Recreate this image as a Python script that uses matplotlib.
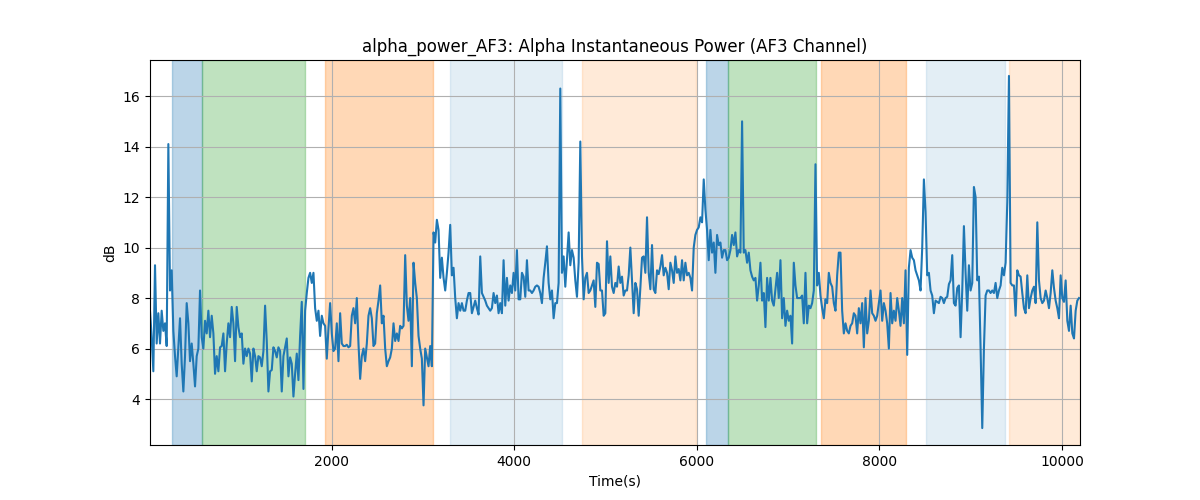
import numpy as np
import matplotlib
matplotlib.use("Agg")
import matplotlib.pyplot as plt

# Alpha power (dB) at a regular time step, in chunks
power_a = [  # ~0 - ~1200 s
    7.5, 6.45, 5.1, 9.3, 6.2, 7.4, 6.2, 7.5, 6.7, 7.0, 6.1, 14.1, 8.3, 9.1, 6.7, 5.7,
    4.9, 6.05, 7.2, 5.4, 4.3, 5.7, 7.8, 7.0, 5.5, 6.2, 5.4, 4.5, 5.7, 6.0, 8.3, 6.45,
    6.0, 7.1, 6.6, 7.5, 6.45, 7.3, 6.6, 5.0, 5.7, 5.1, 6.05, 6.1, 6.6, 5.1, 6.2, 7.0,
    6.45, 7.65, 7.0, 5.5, 7.65, 6.85, 6.45, 6.6, 5.4, 6.0, 5.7, 6.0, 5.8, 4.7, 6.0,
    5.7, 5.1, 5.7,
]
power_b = [  # ~1200 - ~2450 s
    5.65, 5.3, 5.9, 7.7, 6.3, 4.3, 5.1, 5.15, 6.05, 5.9, 5.65, 6.05, 5.9, 4.3, 5.7,
    6.05, 6.4, 4.9, 5.65, 5.4, 4.1, 5.0, 5.8, 4.75, 6.5, 7.85, 4.4, 7.5, 8.2, 8.8, 9.0,
    8.6, 9.0, 7.6, 7.1, 7.5, 6.5, 7.3, 7.0, 6.9, 5.6, 6.8, 7.8, 6.6, 5.9, 6.0, 7.0, 5.5,
    7.4, 6.2, 6.1, 6.1, 6.15, 6.05, 6.1, 7.3, 7.6, 7.0, 8.0, 6.2, 4.8, 5.7, 6.0, 5.5,
    6.2, 7.3, 7.6, 7.2, 6.1,
]
power_c = [  # ~2450 - ~3700 s
    6.2, 7.4, 7.9, 8.5, 7.0, 7.3, 6.0, 5.3, 5.5, 5.65, 6.0, 7.0, 6.3, 6.6, 6.3, 6.9,
    6.8, 6.9, 9.7, 7.7, 7.1, 8.0, 5.3, 9.4, 8.6, 8.0, 6.5, 6.0, 5.6, 3.75, 6.0, 5.65,
    5.3, 6.1, 5.3, 10.6, 10.2, 11.1, 10.7, 8.8, 9.6, 8.8, 8.3, 9.0, 9.8, 10.9, 8.9, 9.2,
    8.0, 7.2, 7.8, 7.5, 7.8, 7.5, 7.5, 7.9, 8.2, 8.2, 7.4, 7.65, 7.9, 7.6, 7.35, 9.65,
    8.2, 8.05, 7.9, 7.7, 7.6,
]
power_d = [  # ~3700 - ~4950 s
    7.5, 7.6, 8.2, 7.8, 8.1, 7.4, 7.8, 7.4, 9.5, 7.7, 8.8, 7.9, 8.5, 8.2, 9.0, 8.3,
    9.9, 7.95, 7.95, 9.0, 8.85, 8.05, 9.5, 8.3, 8.3, 8.2, 8.3, 8.45, 8.5, 8.45, 8.2,
    7.8, 8.8, 9.4, 10.05, 8.6, 7.95, 8.3, 7.2, 7.8, 7.8, 8.6, 16.3, 9.0, 9.65, 8.45,
    9.5, 10.6, 9.3, 9.9, 9.6, 8.7, 8.05, 9.4, 14.2, 9.65, 7.95, 8.8, 9.0, 8.2, 8.3,
    8.5, 8.7, 7.65, 9.4, 9.35, 8.3, 8.3, 7.3,
]
power_e = [  # ~4950 - ~6200 s
    7.4, 10.25, 8.6, 9.65, 8.45, 8.2, 8.6, 8.45, 9.25, 8.6, 8.85, 8.1, 8.3, 8.3, 8.9,
    10.0, 8.7, 7.4, 8.6, 8.35, 7.3, 8.4, 9.6, 9.65, 9.0, 11.2, 9.0, 8.35, 10.1, 8.35,
    8.2, 9.1, 8.95, 9.25, 9.7, 8.9, 9.2, 9.0, 8.35, 9.4, 9.1, 8.6, 9.65, 9.0, 9.15, 8.7,
    9.5, 8.7, 9.4, 8.9, 9.0, 8.8, 8.3, 10.0, 10.5, 10.7, 10.8, 11.2, 11.0, 12.7, 11.5,
    10.7, 9.5, 10.7, 9.8, 10.2, 9.0, 10.5, 10.1,
]
power_f = [  # ~6200 - ~7450 s
    10.2, 9.6, 9.9, 9.9, 9.5, 9.6, 9.9, 10.5, 10.1, 10.6, 9.65, 9.9, 9.8, 15.0, 9.8,
    9.9, 9.4, 9.8, 9.1, 8.85, 8.7, 8.8, 7.9, 8.5, 9.4, 7.9, 8.2, 6.85, 8.8, 7.9, 8.8,
    7.9, 7.7, 8.35, 9.0, 8.0, 9.5, 7.2, 8.0, 6.9, 7.5, 7.1, 7.3, 6.2, 9.4, 8.5, 8.0,
    8.0, 8.0, 8.1, 7.0, 9.0, 7.0, 7.7, 7.6, 7.8, 8.3, 13.3, 8.5, 9.0, 8.1, 7.6, 7.2,
    7.95, 7.8, 9.0, 8.6, 8.45, 7.8,
]
power_g = [  # ~7450 - ~8700 s
    7.5, 8.9, 9.8, 9.8, 7.5, 6.6, 7.0, 6.7, 6.6, 6.9, 7.0, 7.4, 7.3, 6.6, 7.6, 7.0,
    7.8, 6.05, 8.0, 6.6, 7.1, 8.3, 7.4, 7.3, 7.1, 7.3, 7.8, 8.3, 7.1, 7.8, 7.5, 7.0,
    6.0, 8.2, 7.0, 7.5, 7.1, 8.0, 7.5, 6.9, 8.0, 7.0, 9.1, 5.75, 9.2, 9.9, 9.6, 9.5,
    9.1, 8.9, 8.7, 8.3, 10.0, 12.7, 11.4, 8.9, 9.0, 8.3, 8.1, 7.4, 7.9, 7.85, 7.8,
    8.05, 8.0, 7.8, 8.0, 8.05, 8.55,
]
power_h = [  # ~8700 s - end
    8.7, 9.7, 7.8, 7.7, 8.4, 8.5, 6.45, 8.3, 10.85, 9.0, 7.5, 9.3, 8.3, 8.6, 12.4,
    12.0, 8.7, 8.85, 6.0, 2.85, 6.0, 8.1, 8.3, 8.3, 8.2, 8.3, 8.2, 8.6, 8.0, 8.3, 8.5,
    9.2, 8.9, 9.4, 11.8, 16.8, 8.6, 8.5, 8.5, 7.3, 9.1, 8.9, 8.85, 8.2, 7.6, 7.4, 8.9,
    7.6, 8.0, 8.3, 8.45, 7.8, 11.0, 8.7, 8.0, 7.8, 7.9, 8.3, 8.0, 7.6, 8.2, 9.1, 8.4,
    7.9, 7.6, 7.2, 8.9, 8.0, 7.85, 8.7, 7.1, 6.7, 7.7, 6.6, 6.4, 7.5, 7.9, 8.0,
]
t_start, t_end = 12.0, 10186.0
x_limits = (12.0, 10197.0)

# Shaded condition intervals
span_starts = [248, 577, 1927, 3296, 4745, 6099, 6343, 7358, 8508, 9416]
span_ends = [577, 1708, 3106, 4519, 5995, 6343, 7303, 8296, 9373, 10197]
span_colors = ["tab:blue", "tab:green", "tab:orange", "tab:blue", "tab:orange",
               "tab:blue", "tab:green", "tab:orange", "tab:blue", "tab:orange"]
span_alphas = [0.3, 0.3, 0.3, 0.12, 0.16, 0.3, 0.3, 0.3, 0.12, 0.16]

power_db = np.concatenate([power_a, power_b, power_c, power_d,
                           power_e, power_f, power_g, power_h])
time_s = np.linspace(t_start, t_end, len(power_db))

fig, ax = plt.subplots(figsize=(12, 5), dpi=100)
for s, e, c, a in zip(span_starts, span_ends, span_colors, span_alphas):
    ax.axvspan(s, e, color=c, alpha=a)
ax.plot(time_s, power_db, color="tab:blue", linewidth=1.5)
ax.set_xlim(*x_limits)
ax.set_ylim(2.18, 17.43)
ax.set_yticks([4, 6, 8, 10, 12, 14, 16])
ax.grid(True)
ax.set_title("alpha_power_AF3: Alpha Instantaneous Power (AF3 Channel)")
ax.set_xlabel("Time(s)")
ax.set_ylabel("dB")
fig.savefig("out.png")
